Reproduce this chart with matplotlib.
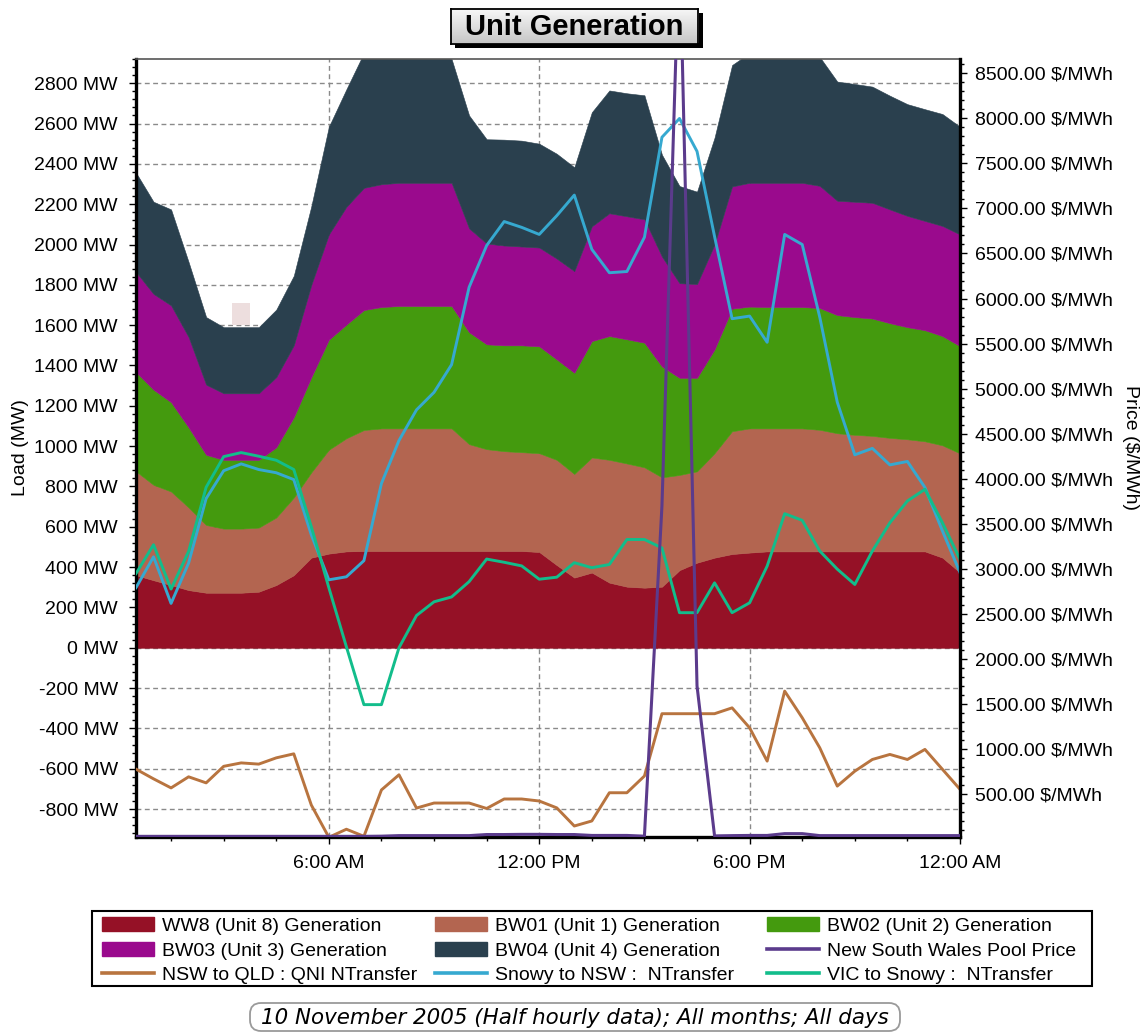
import numpy as np
import matplotlib
matplotlib.use("Agg")
import matplotlib.pyplot as plt
from matplotlib.ticker import MultipleLocator, FixedLocator, FuncFormatter
from matplotlib.patches import Patch, Rectangle, FancyBboxPatch
from matplotlib.lines import Line2D
from matplotlib.transforms import IdentityTransform

plt.rcParams.update({"font.family": ["Liberation Sans", "DejaVu Sans"], "font.size": 14})

# half-hourly interval ends, 00:30 .. 24:00 (hours)
hours = np.arange(0.5, 24.01, 0.5)

# unit generation (MW), stacked bottom -> top
ww8 = [360, 335, 311, 286, 273, 273, 273, 278, 311, 360, 447, 467, 478, 480, 480, 480,
       480, 480, 480, 480, 480, 480, 480, 475, 410, 348, 373, 323, 303, 298, 303, 385,
       422, 447, 465, 472, 478, 478, 478, 478, 478, 478, 478, 478, 478, 478, 447, 373]
bw01 = [515, 473, 464, 410, 336, 318, 318, 318, 335, 385, 423, 515, 561, 600, 608, 608,
        608, 608, 608, 530, 505, 495, 490, 490, 522, 514, 571, 609, 611, 597, 542, 472,
        453, 518, 609, 616, 610, 610, 610, 603, 586, 578, 573, 563, 556, 546, 557, 591]
bw02 = [492, 472, 443, 397, 348, 341, 341, 336, 348, 398, 472, 546, 564, 595, 602, 607,
        607, 607, 607, 555, 520, 525, 530, 530, 498, 502, 577, 614, 616, 618, 550, 482,
        464, 515, 608, 604, 602, 602, 602, 604, 586, 584, 582, 569, 556, 551, 542, 532]
bw03 = [497, 475, 480, 448, 348, 330, 330, 330, 348, 357, 458, 522, 584, 606, 609, 611,
        611, 611, 611, 515, 500, 495, 490, 490, 500, 504, 569, 609, 610, 612, 545, 469,
        465, 520, 606, 614, 616, 616, 616, 606, 567, 572, 574, 564, 552, 542, 546, 554]
bw04 = [492, 457, 476, 372, 335, 328, 328, 328, 335, 345, 390, 534, 583, 669, 661, 654,
        654, 644, 614, 560, 517, 525, 525, 515, 520, 515, 566, 609, 610, 615, 505, 482,
        458, 530, 602, 644, 654, 654, 654, 639, 591, 584, 576, 564, 554, 554, 555, 534]

# interconnector transfers (MW, left axis)
nsw_qld = [-602, -650, -695, -640, -670, -588, -571, -577, -546, -526, -780, -940, -900, -935, -705, -630,
           -795, -770, -770, -770, -797, -750, -750, -760, -794, -884, -859, -719, -719, -636, -327, -327,
           -327, -327, -298, -397, -562, -215, -347, -496, -686, -612, -554, -529, -554, -504, -603, -702]
snowy_nsw = [298, 451, 220, 420, 740, 878, 912, 884, 868, 834, 560, 337, 352, 432, 815, 1028,
             1180, 1267, 1404, 1788, 1995, 2114, 2085, 2050, 2143, 2245, 1976, 1860, 1866, 2036, 2532, 2625,
             2462, 2040, 1632, 1645, 1515, 2050, 2000, 1640, 1218, 957, 989, 907, 924, 795, 579, 373]
vic_snowy = [368, 511, 291, 478, 796, 948, 968, 950, 930, 884, 600, 298, 5, -282, -282, 0,
             160, 228, 252, 328, 440, 424, 406, 340, 350, 422, 397, 413, 537, 537, 495, 174,
             174, 322, 174, 223, 405, 665, 632, 480, 390, 314, 480, 620, 728, 786, 620, 438]

# NSW pool price ($/MWh, right axis)
price = [30, 30, 30, 30, 30, 30, 30, 30, 30, 30, 30, 30, 30, 30, 32, 38,
         38, 38, 38, 38, 50, 50, 52, 52, 50, 50, 40, 40, 40, 32, 3700, 10000,
         1700, 35, 38, 40, 40, 60, 60, 38, 38, 38, 38, 38, 38, 38, 38, 38]

unit_labels = ["WW8 (Unit 8) Generation", "BW01 (Unit 1) Generation", "BW02 (Unit 2) Generation",
               "BW03 (Unit 3) Generation", "BW04 (Unit 4) Generation"]
unit_colors = ["#951126", "#B36550", "#449A0E", "#9A0A8D", "#2A404E"]
c_price, c_qld, c_snowy, c_vic = "#5B3B8C", "#B8743F", "#36A9D0", "#12BD8B"

W, H = 1141, 1032
fig = plt.figure(figsize=(W / 100, H / 100), dpi=100)
L, R, T, B = 136, 960, 59, 836.7
ax = fig.add_axes([L / W, 1 - B / H, (R - L) / W, (B - T) / H])

polys = ax.stackplot(hours, ww8, bw01, bw02, bw03, bw04, colors=unit_colors, zorder=1)
for p, c in zip(polys, unit_colors):
    p.set_edgecolor(c); p.set_linewidth(0.4)

ax.plot(hours, nsw_qld, color=c_qld, lw=2.1, zorder=3)
ax.plot(hours, snowy_nsw, color=c_snowy, lw=2.1, zorder=3)
ax.plot(hours, vic_snowy, color=c_vic, lw=2.1, zorder=3)

ax.set_xlim(0.5, 24)
ax.set_ylim(-937, 2920)
ax.set_axisbelow(True)
ax.grid(True, which="major", color="#8a8a8a", ls=(0, (3.5, 2.5)), lw=1.0)

ax.xaxis.set_major_locator(FixedLocator([6, 12, 18, 24]))
ax.set_xticklabels(["6:00 AM", "12:00 PM", "6:00 PM", "12:00 AM"])
ax.xaxis.set_minor_locator(MultipleLocator(1.5))
ax.yaxis.set_major_locator(MultipleLocator(200))
ax.yaxis.set_minor_locator(MultipleLocator(40))
ax.yaxis.set_major_formatter(FuncFormatter(lambda v, _: f"{v:.0f} MW"))
ax.tick_params(axis="both", which="major", length=5, width=1, direction="out", labelsize=14)
ax.tick_params(axis="both", which="minor", length=3, width=1, direction="out")
ax.tick_params(axis="y", which="major", pad=8)
ax.tick_params(axis="x", which="major", pad=8)

ax.set_ylabel("Load (MW)", va="center", fontsize=14)
ax.yaxis.set_label_coords((21 - L) / (R - L), 0.5)

for s in ["left", "bottom"]:
    ax.spines[s].set_linewidth(2.4); ax.spines[s].set_color("black")
ax.spines["top"].set_linewidth(1.2); ax.spines["top"].set_color("#555555")
ax.spines["right"].set_visible(False)

ax2 = ax.twinx()
ax2.plot(hours, price, color=c_price, lw=2.2, zorder=4)
ax2.set_ylim(26, 8659)
ax2.yaxis.set_major_locator(MultipleLocator(500))
ax2.yaxis.set_minor_locator(MultipleLocator(100))
ax2.yaxis.set_major_formatter(FuncFormatter(lambda v, _: f"{v:.2f} $/MWh"))
ax2.tick_params(axis="y", which="major", length=5, width=1, direction="out", labelsize=14, pad=6)
ax2.tick_params(axis="y", which="minor", length=3, width=1, direction="out")
for s in ["left", "top", "bottom"]:
    ax2.spines[s].set_visible(False)
ax2.spines["right"].set_linewidth(2.4); ax2.spines["right"].set_color("black")
ax2.set_ylabel("Price ($/MWh)", rotation=270, va="center", ha="center", fontsize=14)
ax2.yaxis.set_label_coords((1131 - L) / (R - L), 0.5)

# title plate with drop shadow
sax = fig.add_axes([455 / W, 1 - 47.5 / H, (702.5 - 455) / W, 35 / H])
sax.set_facecolor("black"); sax.set_xticks([]); sax.set_yticks([])
for s in sax.spines.values():
    s.set_visible(False)
tax = fig.add_axes([450.5 / W, 1 - 43.5 / H, (698 - 450.5) / W, 35 / H])
grad = np.linspace(0.97, 0.78, 64).reshape(-1, 1)
tax.imshow(grad, aspect="auto", cmap="gray", vmin=0, vmax=1, extent=[0, 1, 0, 1])
tax.set_xticks([]); tax.set_yticks([])
for s in tax.spines.values():
    s.set_linewidth(1.3); s.set_color("black")
tax.text(0.5, 0.47, "Unit Generation", ha="center", va="center", fontsize=21,
         fontweight="bold", transform=tax.transAxes)

# faint rendering artefact near the 1600 MW level
fig.add_artist(Rectangle((231.7 / W, 1 - 325 / H), 18.3 / W, 22 / H, transform=fig.transFigure,
                         facecolor="#eddede", edgecolor="none", zorder=10))

# legend: frame drawn by hand, one borderless legend per column
fig.add_artist(Rectangle((91.5, H - 985.5), 1000, 75, transform=IdentityTransform(),
                         facecolor="white", edgecolor="black", lw=1.5, zorder=5))
h_units = [Patch(facecolor=c, edgecolor=c) for c in unit_colors]
h_line = lambda c: Line2D([], [], color=c, lw=2.6)
columns = [
    (102, [h_units[0], h_units[3], h_line(c_qld)],
     [unit_labels[0], unit_labels[3], "NSW to QLD : QNI NTransfer"]),
    (435, [h_units[1], h_units[4], h_line(c_snowy)],
     [unit_labels[1], unit_labels[4], "Snowy to NSW :  NTransfer"]),
    (767, [h_units[2], h_line(c_price), h_line(c_vic)],
     [unit_labels[2], "New South Wales Pool Price", "VIC to Snowy :  NTransfer"]),
]
for x0, hs, ls in columns:
    lg = fig.legend(hs, ls, loc="upper left", bbox_to_anchor=(x0 / W, 1 - 917 / H),
                    fontsize=14, frameon=False, handlelength=2.67, handleheight=0.77,
                    handletextpad=0.44, labelspacing=0.34, borderpad=0, borderaxespad=0)
    lg.set_zorder(6)

# footer caption in a rounded box
fig.add_artist(FancyBboxPatch((250, H - 1031), 650, 28, boxstyle="round,pad=0,rounding_size=11",
                              transform=IdentityTransform(), facecolor="white",
                              edgecolor="#9a9a9a", lw=1.3, zorder=5))
fig.text(575 / W, 1 - 1017.5 / H, "10 November 2005 (Half hourly data); All months; All days",
         ha="center", va="center", fontsize=15.4, style="italic", family="DejaVu Sans", zorder=6)

fig.savefig("out.png", dpi=100)
